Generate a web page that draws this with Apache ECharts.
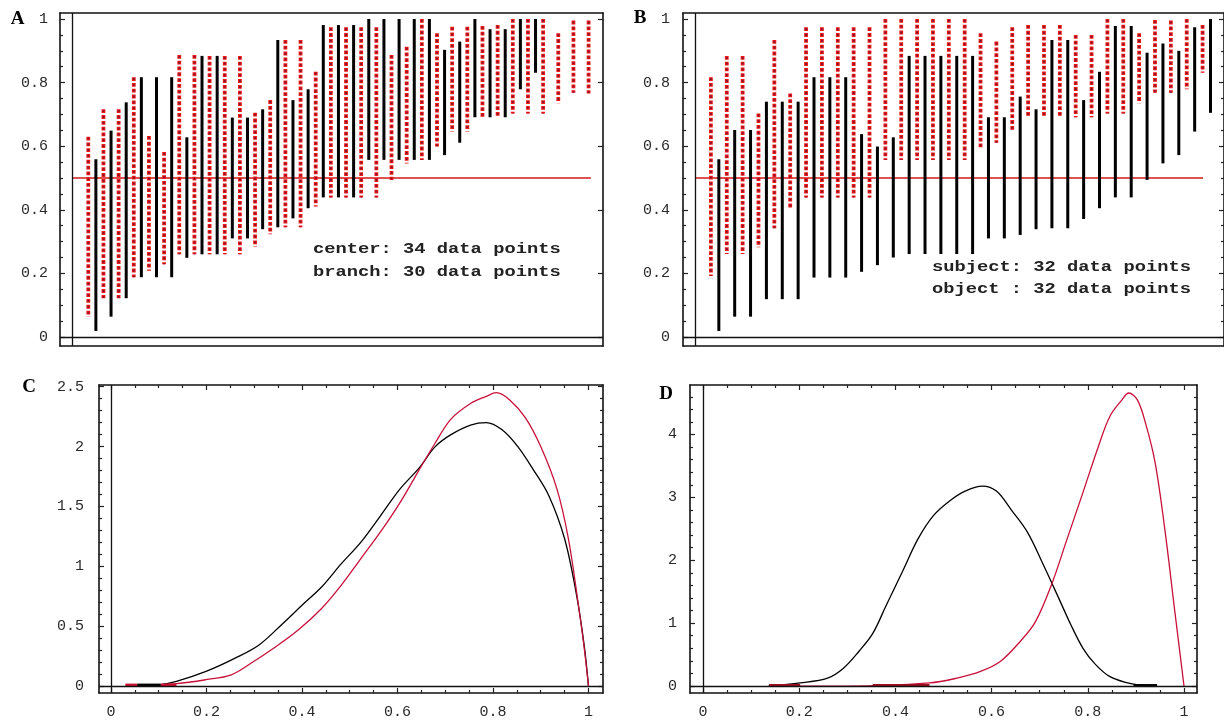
<!DOCTYPE html>
<html><head><meta charset="utf-8">
<script src="https://cdn.jsdelivr.net/npm/echarts@6/dist/echarts.min.js"></script>
<style>html,body{margin:0;padding:0;background:#fff}#c{width:1224px;height:720px}</style>
</head><body><div id="c"></div>
<script>
// ---------------- Panel A : interval bars (center = red dashed, branch = black) ----------------
const centerPosA = [1,3,5,7,9,11,13,15,17,19,21,23,25,27,29,31,33,35,37,39,41,43,45,47,49,51,53,55,57,59,61,63,65,67];
const centerHiA  = [0.63,0.716,0.716,0.817,0.632,0.582,0.887,0.887,0.884,0.884,0.884,0.705,0.745,0.934,0.934,0.834,0.974,0.974,0.974,0.974,0.887,0.913,1.0,0.955,0.976,0.976,0.978,0.981,1.0,1.0,1.0,0.955,0.995,0.995];
const centerLoA  = [0.064,0.122,0.122,0.188,0.208,0.229,0.26,0.26,0.26,0.26,0.26,0.284,0.323,0.345,0.345,0.41,0.439,0.439,0.439,0.439,0.494,0.546,0.557,0.599,0.646,0.646,0.691,0.691,0.703,0.703,0.703,0.735,0.768,0.766];
const branchPosA = [2,4,6,8,10,12,14,16,18,20,22,24,26,28,30,32,34,36,38,40,42,44,46,48,50,52,54,56,58,60];
const branchHiA  = [0.559,0.649,0.738,0.817,0.817,0.817,0.628,0.884,0.884,0.69,0.69,0.716,0.934,0.745,0.779,0.981,0.981,0.981,1.0,1.0,1.0,1.0,1.0,0.903,0.929,1.0,0.968,0.968,1.0,1.0];
const branchLoA  = [0.019,0.064,0.122,0.188,0.188,0.188,0.249,0.26,0.26,0.31,0.31,0.339,0.345,0.373,0.405,0.439,0.439,0.439,0.557,0.557,0.557,0.557,0.557,0.572,0.611,0.691,0.691,0.691,0.779,0.831];

// ---------------- Panel B : interval bars (subject = red dashed, object = black) ----------------
const subjectPosB = [1,3,5,7,9,11,13,15,17,19,21,23,25,27,29,31,33,35,37,39,41,43,45,47,49,51,53,55,57,59,61,63];
const subjectHiB  = [0.817,0.884,0.884,0.703,0.934,0.766,0.974,0.974,0.974,0.974,0.974,1.0,1.0,1.0,1.0,1.0,1.0,0.955,0.929,0.974,0.981,0.981,0.981,0.95,0.95,1.0,1.0,0.955,0.997,0.995,1.0,0.981];
const subjectLoB  = [0.192,0.261,0.261,0.282,0.342,0.405,0.439,0.439,0.439,0.439,0.439,0.557,0.557,0.557,0.557,0.557,0.557,0.593,0.611,0.646,0.691,0.691,0.691,0.691,0.691,0.703,0.703,0.735,0.768,0.768,0.779,0.831];
const objectPosB  = [2,4,6,8,10,12,14,16,18,20,22,24,26,28,30,32,34,36,38,40,42,44,46,48,50,52,54,56,58,60,62,64];
const objectHiB   = [0.559,0.651,0.651,0.74,0.74,0.74,0.817,0.817,0.817,0.638,0.599,0.628,0.884,0.884,0.884,0.884,0.884,0.691,0.691,0.756,0.716,0.934,0.934,0.745,0.834,0.978,0.978,0.894,0.923,0.9,0.974,1.0];
const objectLoB   = [0.019,0.064,0.064,0.119,0.119,0.119,0.187,0.187,0.187,0.205,0.226,0.25,0.261,0.261,0.261,0.261,0.261,0.31,0.31,0.321,0.339,0.342,0.342,0.371,0.405,0.439,0.439,0.494,0.546,0.572,0.646,0.705];

const refLevel = 0.5;            // horizontal reference line in A and B
const refSpanA = [-1.15, 67.3];  // x-extent of the reference line (slot units)
const refSpanB = [-1.01, 63.06];
const originA = -1.15, originB = -1.01;

// ---------------- Panel C : densities ----------------
const cBlackX = [0.038,0.1,0.137,0.199,0.26,0.31,0.36,0.4,0.441,0.482,0.523,0.564,0.605,0.646,0.679,0.712,0.753,0.786,0.819,0.852,0.884,0.917,0.95,0.975,0.991,1.0];
const cBlackY = [0,0.01,0.039,0.122,0.233,0.343,0.523,0.675,0.827,1.02,1.2,1.42,1.645,1.825,2.0,2.1,2.18,2.2,2.14,2.0,1.81,1.59,1.23,0.76,0.34,0];
const cRedX   = [0.035,0.137,0.199,0.252,0.293,0.342,0.392,0.441,0.482,0.523,0.564,0.605,0.646,0.679,0.712,0.753,0.786,0.807,0.835,0.868,0.9,0.934,0.958,0.979,0.991,1.0];
const cRedY   = [0,0.02,0.053,0.094,0.19,0.32,0.468,0.648,0.841,1.063,1.285,1.53,1.81,2.03,2.23,2.36,2.42,2.45,2.39,2.24,2.0,1.645,1.23,0.675,0.32,0];
const cRedSegs   = [[0.03,0.055],[0.104,0.137]];
const cBlackSegs = [[0.055,0.104]];

// ---------------- Panel D : densities ----------------
const dBlackX = [0.137,0.202,0.259,0.292,0.324,0.353,0.381,0.414,0.447,0.479,0.512,0.545,0.581,0.61,0.642,0.675,0.708,0.74,0.765,0.79,0.814,0.846,0.895,0.944];
const dBlackY = [0,0.05,0.126,0.284,0.55,0.837,1.285,1.81,2.34,2.71,2.94,3.1,3.18,3.1,2.79,2.44,1.92,1.39,0.97,0.6,0.36,0.15,0.03,0];
const dRedX   = [0.137,0.3,0.471,0.528,0.577,0.618,0.659,0.691,0.724,0.757,0.79,0.822,0.846,0.871,0.885,0.903,0.92,0.94,0.96,0.981,1.0];
const dRedY   = [0,0,0.05,0.126,0.232,0.39,0.705,1.02,1.6,2.34,3.08,3.81,4.29,4.55,4.66,4.55,4.18,3.55,2.5,1.18,0];
const dRedSegs   = [[0.137,0.202],[0.353,0.471]];
const dBlackSegs = [[0.895,0.944]];

// ---------------- tick labels ----------------
const yLabelsAB = [0,0.2,0.4,0.6,0.8,1];
const xLabelsCD = [0,0.2,0.4,0.6,0.8,1];
const yLabelsC  = [0,0.5,1,1.5,2,2.5];
const yLabelsD  = [0,1,2,3,4];

const annotA = ['center: 34 data points','branch: 30 data points'];
const annotB = ['subject: 32 data points','object : 32 data points'];

// ---------------- helpers ----------------
function stepTicks(min,max,step,skip){
  const out=[]; const s=Math.ceil(min/step-1e-9), e=Math.floor(max/step+1e-9);
  for(let i=s;i<=e;i++){ const v=+(i*step).toFixed(6);
    if(skip && Math.abs(v/skip-Math.round(v/skip))<1e-6) continue; out.push(v);}
  return out;
}
const MONO='"Liberation Mono","DejaVu Sans Mono",monospace';
function mkAxis(g,pos,min,max,ticks,len,line,labels,margin){
  return {type:'value',gridIndex:g,position:pos,min:min,max:max,
    axisLine:{show:line,onZero:false,lineStyle:{color:'#111',width:1.6}},
    axisTick:{show:ticks.length>0,inside:true,length:len,customValues:ticks.length?ticks:[0],lineStyle:{color:'#222',width:1.2}},
    axisLabel:{show:!!labels,customValues:labels||[0],margin:margin||8,color:'#2a2a2a',fontFamily:MONO,fontSize:15},
    splitLine:{show:false},minorTick:{show:false},minorSplitLine:{show:false}};
}
const panels=[
  {grid:{left:60,top:13,width:543,height:333},x:[-2.733,68.90],y:[-0.0283,1.0189],
   xMaj:0,xMin:0,yMaj:0.2,yMin:0.05,xTicks:false,rightMinor:false,xLabels:null,yLabels:yLabelsAB,yMargin:12},
  {grid:{left:683,top:13,width:543,height:333},x:[-2.518,65.70],y:[-0.0283,1.0189],
   xMaj:0,xMin:0,yMaj:0.2,yMin:0.05,xTicks:false,rightMinor:true,xLabels:null,yLabels:yLabelsAB,yMargin:13},
  {grid:{left:99,top:385,width:504,height:310},x:[-0.02513,1.0304],y:[-0.0581,2.5145],
   xMaj:0.2,xMin:0.05,yMaj:0.5,yMin:0.1,xTicks:true,rightMinor:true,xLabels:xLabelsCD,yLabels:yLabelsC,yMargin:15},
  {grid:{left:690,top:385,width:507,height:310},x:[-0.027,1.027],y:[-0.1106,4.787],
   xMaj:0.2,xMin:0.05,yMaj:1,yMin:0.2,xTicks:true,rightMinor:true,xLabels:xLabelsCD,yLabels:yLabelsD,yMargin:13}
];
const grids=[],xAxes=[],yAxes=[];
panels.forEach((p,g)=>{
  grids.push(Object.assign({show:false},p.grid));
  const xM=p.xTicks?stepTicks(p.x[0],p.x[1],p.xMaj):[];
  const xm=p.xTicks?stepTicks(p.x[0],p.x[1],p.xMin,p.xMaj):[];
  const yM=stepTicks(p.y[0],p.y[1],p.yMaj);
  const ym=stepTicks(p.y[0],p.y[1],p.yMin,p.yMaj);
  xAxes.push(mkAxis(g,'bottom',p.x[0],p.x[1],xM,5,true,p.xLabels,12));
  xAxes.push(mkAxis(g,'bottom',p.x[0],p.x[1],xm,3,false,null));
  xAxes.push(mkAxis(g,'top',p.x[0],p.x[1],xM,5,true,null));
  xAxes.push(mkAxis(g,'top',p.x[0],p.x[1],xm,3,false,null));
  yAxes.push(mkAxis(g,'left',p.y[0],p.y[1],yM,5,true,p.yLabels,p.yMargin));
  yAxes.push(mkAxis(g,'left',p.y[0],p.y[1],ym,3,false,null));
  yAxes.push(mkAxis(g,'right',p.y[0],p.y[1],yM,5,true,null));
  yAxes.push(mkAxis(g,'right',p.y[0],p.y[1],p.rightMinor?ym:[],3,false,null));
});

function barData(pos,lo,hi){return pos.map((x,i)=>[x,lo[i],hi[i]]);}
function solidBar(params,api){
  const t=api.coord([api.value(0),api.value(2)]), b=api.coord([api.value(0),api.value(1)]);
  return {type:'line',shape:{x1:t[0],y1:t[1],x2:b[0],y2:b[1]},style:{stroke:'#000',lineWidth:3}};
}
function dashBar(params,api){
  const t=api.coord([api.value(0),api.value(2)]), b=api.coord([api.value(0),api.value(1)]);
  const sh={x1:t[0],y1:t[1],x2:b[0],y2:b[1]};
  return {type:'group',children:[
    {type:'line',shape:sh,style:{stroke:'#f01818',lineWidth:3.8,lineDash:[3.8,2.0]}},
    {type:'line',shape:sh,style:{stroke:'#80142a',lineWidth:1.8,lineDash:[1.8,4.0],lineDashOffset:-1.0}}
  ]};
}
function segRenderer(color,width){
  return function(params,api){
    const a=api.coord([api.value(0),api.value(2)]), b=api.coord([api.value(1),api.value(2)]);
    return {type:'line',shape:{x1:a[0],y1:a[1],x2:b[0],y2:b[1]},style:{stroke:color,lineWidth:width}};
  };
}
function originLines(g,x0){
  return {type:'line',xAxisIndex:4*g,yAxisIndex:4*g,data:[],silent:true,
    markLine:{silent:true,symbol:'none',animation:false,label:{show:false},
      lineStyle:{color:'#111',width:1.3,type:'solid'},
      data:[{xAxis:x0},{yAxis:0}]}};
}
function refLine(g,span){
  return {type:'line',xAxisIndex:4*g,yAxisIndex:4*g,showSymbol:false,silent:true,z:1,
    lineStyle:{color:'#d01818',width:1.3},data:[[span[0],refLevel],[span[1],refLevel]]};
}
function curve(g,xs,ys,color){
  return {type:'line',xAxisIndex:4*g,yAxisIndex:4*g,showSymbol:false,smooth:0.35,z:3,
    lineStyle:{color:color,width:1.3},data:xs.map((x,i)=>[x,ys[i]])};
}
function segs(g,list,color){
  return {type:'custom',xAxisIndex:4*g,yAxisIndex:4*g,renderItem:segRenderer(color,3),z:4,
    data:list.map(s=>[s[0],s[1],0.008])};
}

const series=[
  originLines(0,originA), refLine(0,refSpanA),
  {type:'custom',xAxisIndex:0,yAxisIndex:0,renderItem:solidBar,z:2,data:barData(branchPosA,branchLoA,branchHiA)},
  {type:'custom',xAxisIndex:0,yAxisIndex:0,renderItem:dashBar,z:2,data:barData(centerPosA,centerLoA,centerHiA)},
  originLines(1,originB), refLine(1,refSpanB),
  {type:'custom',xAxisIndex:4,yAxisIndex:4,renderItem:solidBar,z:2,data:barData(objectPosB,objectLoB,objectHiB)},
  {type:'custom',xAxisIndex:4,yAxisIndex:4,renderItem:dashBar,z:2,data:barData(subjectPosB,subjectLoB,subjectHiB)},
  originLines(2,0),
  curve(2,cBlackX,cBlackY,'#000'), curve(2,cRedX,cRedY,'#c8103a'),
  segs(2,cRedSegs,'#cc1030'), segs(2,cBlackSegs,'#000'),
  originLines(3,0),
  curve(3,dBlackX,dBlackY,'#000'), curve(3,dRedX,dRedY,'#c8103a'),
  segs(3,dRedSegs,'#9b0f1f'), segs(3,dBlackSegs,'#000')
];

function annot(x,y,txt){
  return {type:'text',x:x,y:y,scaleX:1.34,scaleY:1,silent:true,
    style:{text:txt,fill:'#222',font:'bold 14px '+MONO,textAlign:'left',textVerticalAlign:'middle',align:'left',verticalAlign:'middle'}};
}
function letter(x,y,t){
  return {type:'text',x:x,y:y,silent:true,
    style:{text:t,fill:'#000',font:'bold 19px "Liberation Serif",serif',textAlign:'center',textVerticalAlign:'middle',align:'center',verticalAlign:'middle'}};
}
const graphic=[
  letter(17.5,19,'A'), letter(640,18,'B'), letter(29,387,'C'), letter(666,394,'D'),
  annot(313,249.5,annotA[0]), annot(313,272.5,annotA[1]),
  annot(932,267,annotB[0]), annot(932,289.5,annotB[1])
];

const chart=echarts.init(document.getElementById('c'),null,{renderer:'canvas'});
chart.setOption({animation:false,backgroundColor:'#fff',grid:grids,xAxis:xAxes,yAxis:yAxes,series:series,graphic:graphic});
</script></body></html>
